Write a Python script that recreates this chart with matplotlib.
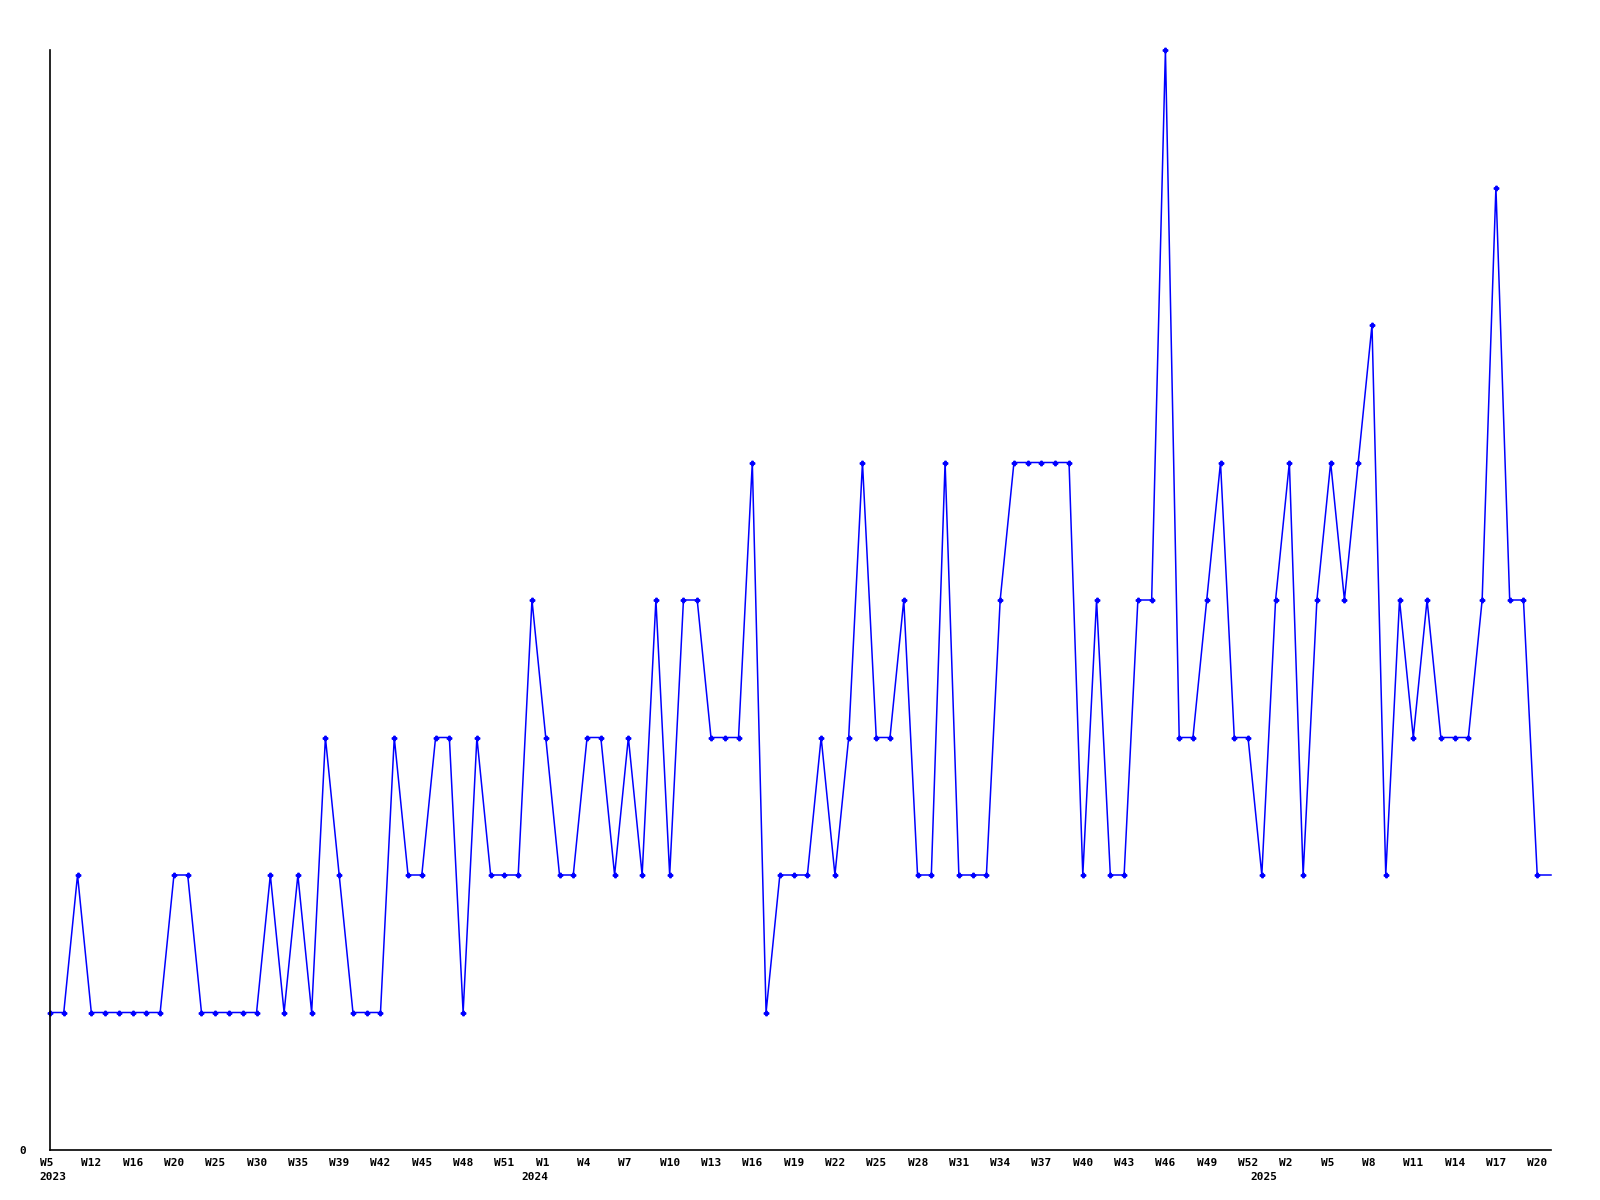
import matplotlib.pyplot as plt
import matplotlib.transforms as mtransforms

# weekly counts, one value per week shown (last one runs to the edge)
values = [1, 1, 2, 1, 1, 1, 1, 1, 1, 2, 2, 1, 1, 1, 1, 1, 2, 1, 2, 1,
          3, 2, 1, 1, 1, 3, 2, 2, 3, 3, 1, 3, 2, 2, 2, 4, 3, 2, 2, 3,
          3, 2, 3, 2, 4, 2, 4, 4, 3, 3, 3, 5, 1, 2, 2, 2, 3, 2, 3, 5,
          3, 3, 4, 2, 2, 5, 2, 2, 2, 4, 5, 5, 5, 5, 5, 2, 4, 2, 2, 4,
          4, 8, 3, 3, 4, 5, 3, 3, 2, 4, 5, 2, 4, 5, 4, 5, 6, 2, 4, 3,
          4, 3, 3, 3, 4, 7, 4, 4, 2, 2]

week_labels = ["W5", "W12", "W16", "W20", "W25", "W30", "W35", "W39", "W42",
               "W45", "W48", "W51", "W1", "W4", "W7", "W10", "W13", "W16",
               "W19", "W22", "W25", "W28", "W31", "W34", "W37", "W40", "W43",
               "W46", "W49", "W52", "W2", "W5", "W8", "W11", "W14", "W17", "W20"]
year_labels = ["2023", "2024", "2025"]
year_pos = [0, 35, 88]

x = list(range(len(values)))
n_marked = len(values) - 1

fig = plt.figure(figsize=(16, 12), dpi=100)
ax = fig.add_axes([50 / 1600, 50 / 1200, 1501 / 1600, 1100 / 1200])

ax.plot(x, values, color="#0000ff", linewidth=1.1, marker="P", markersize=3.2,
        markevery=list(range(n_marked)), clip_on=False)

ax.set_xlim(0, len(values) - 1)
ax.set_ylim(0, 8)

for side in ["top", "right"]:
    ax.spines[side].set_visible(False)
for side in ["left", "bottom"]:
    ax.spines[side].set_linewidth(1.2)
    ax.spines[side].set_color("black")

font = dict(family="DejaVu Sans Mono", fontsize=8, fontweight="bold")

ax.set_yticks([0])
ax.set_yticklabels(["0"], **font)
ax.tick_params(axis="y", length=0, pad=17)

# week labels are left-aligned a little before their point
ax.set_xticks(range(0, 3 * len(week_labels), 3))
ax.set_xticklabels(week_labels, ha="left", **font)
ax.tick_params(axis="x", length=0, pad=6)
shift = mtransforms.ScaledTranslation(-10 / 100, 0, fig.dpi_scale_trans)
for lbl in ax.get_xticklabels():
    lbl.set_transform(lbl.get_transform() + shift)

trans = mtransforms.blended_transform_factory(ax.transData, ax.transAxes)
yshift = mtransforms.ScaledTranslation(-11 / 100, 0, fig.dpi_scale_trans)
for pos, yr in zip(year_pos, year_labels):
    ax.text(pos, -27 / 1100, yr, transform=trans + yshift, ha="left",
            va="center", **font)

fig.savefig("out.png", dpi=100)
